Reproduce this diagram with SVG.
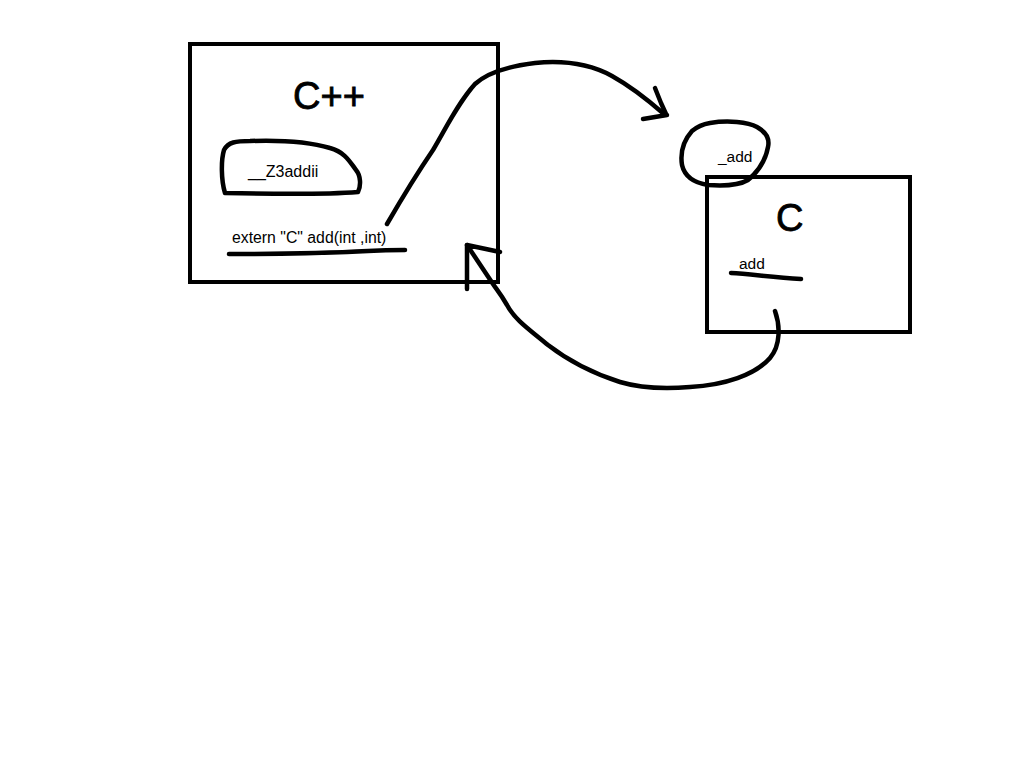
<svg xmlns="http://www.w3.org/2000/svg" width="1024" height="768" viewBox="0 0 1024 768">
  <style>
    .box { fill: none; stroke: #000; stroke-width: 4; }
    .ink { fill: none; stroke: #000; stroke-width: 4.5; stroke-linecap: round; stroke-linejoin: round; }
    .lbl { font-family: "Liberation Sans", Arial, sans-serif; fill: #000; }
    .hand { font-family: "Liberation Sans", Arial, sans-serif; fill: #000; stroke: #000; stroke-width: 0.8; }
  </style>
  <rect width="1024" height="768" fill="#fff"/>

  <!-- C++ side -->
  <g id="cpp-box">
    <rect class="box" x="190" y="44" width="308" height="238"/>
    <text class="hand" x="293" y="109" font-size="38">C++</text>
  </g>
  <g id="mangled-name">
    <path class="ink" d="M 225,193 C 221,180 221,160 224,150 C 228,142 236,141 250,141 C 280,140 310,142 330,148 C 345,152 350,162 356,170 C 361,176 361,186 358,192 C 320,195 270,194 225,193 Z"/>
    <text class="lbl" x="248" y="177" font-size="16">__Z3addii</text>
  </g>
  <g id="extern-decl">
    <text class="lbl" x="232" y="243" font-size="15.8">extern "C" add(int ,int)</text>
    <path class="ink" d="M 229,254 C 280,254 330,253 368,251 C 385,250 395,250 405,250"/>
  </g>

  <!-- C side -->
  <g id="c-symbol">
    <path class="ink" d="M 710,123 C 728,120 748,122 757,127 C 766,132 770,138 768,147 C 766,158 760,170 748,180 C 738,186 722,186 708,185 C 695,183 685,178 682,165 C 680,152 684,140 692,131 C 698,126 704,124 710,123 Z"/>
    <text class="lbl" x="718" y="162" font-size="15.5">_add</text>
  </g>
  <g id="c-box">
    <rect class="box" x="707" y="177" width="203" height="155"/>
    <text class="hand" x="776" y="231" font-size="38">C</text>
    <text class="lbl" x="739" y="269" font-size="15.5">add</text>
    <path class="ink" d="M 731,273 C 750,274 770,277 801,279"/>
  </g>

  <!-- connectors -->
  <g id="connectors">
    <!-- extern "C" declaration to the unmangled C symbol -->
    <path class="ink" d="M 387,224 C 398,205 418,172 433,150 C 446,128 458,103 475,84 C 488,72 510,66 535,63 C 565,60 590,64 612,76 C 630,86 648,100 664,114"/>
    <path class="ink" d="M 655,88 L 661,103 L 666,114 M 643,119 L 667,115"/>
    <!-- C definition back to the C++ box -->
    <path class="ink" d="M 775,311 C 780,325 781,345 770,358 C 755,375 725,385 690,387 C 665,389 640,388 620,382 C 595,374 570,362 548,345 C 530,330 515,320 507,305 C 500,293 497,290 493,284 L 467,245 L 500,252"/>
    <path class="ink" d="M 467,245 L 467,289"/>
  </g>
</svg>
